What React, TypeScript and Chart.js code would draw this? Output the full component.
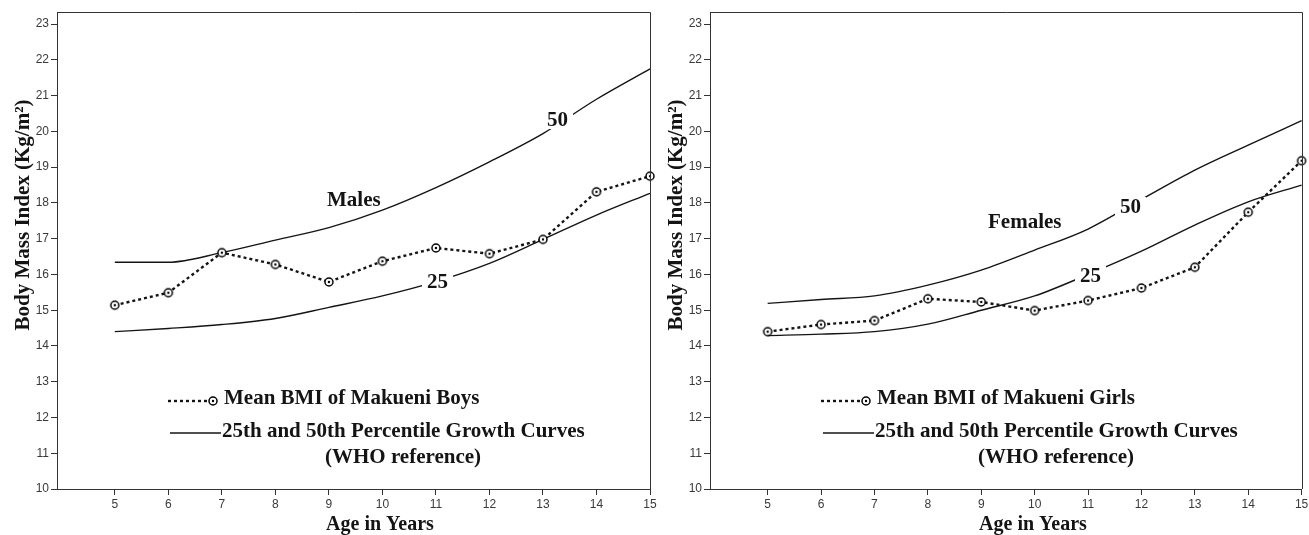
import React, { useEffect, useRef } from "react";
import { Chart, registerables } from "chart.js";

Chart.register(...registerables);

// ---------- data ----------
const ages = [5, 6, 7, 8, 9, 10, 11, 12, 13, 14, 15];

const boysMean = [15.14, 15.49, 16.61, 16.28, 15.79, 16.37, 16.74, 16.58, 16.98, 18.31, 18.75];
const boysP50 = [16.34, 16.34, 16.61, 16.96, 17.31, 17.8, 18.43, 19.15, 19.94, 20.9, 21.75];
const boysP25 = [14.4, 14.49, 14.6, 14.77, 15.08, 15.4, 15.8, 16.31, 16.98, 17.66, 18.27];

const girlsMean = [14.4, 14.6, 14.71, 15.32, 15.23, 14.99, 15.27, 15.62, 16.2, 17.74, 19.18];
const girlsP50 = [15.19, 15.3, 15.4, 15.7, 16.12, 16.68, 17.27, 18.1, 18.92, 19.62, 20.3];
const girlsP25 = [14.29, 14.33, 14.4, 14.61, 15.0, 15.4, 16.0, 16.65, 17.38, 18.03, 18.5];

const xTickValues = [5, 6, 7, 8, 9, 10, 11, 12, 13, 14, 15];
const yTickValues = [10, 11, 12, 13, 14, 15, 16, 17, 18, 19, 20, 21, 22, 23];

const X_MIN = 3.92;
const X_MAX = 15;
const Y_MIN = 10;
const Y_MAX = 23.34;

// ---------- styles ----------
const INK = "#141414";
const AXIS = "#333333";
const SERIF = "'Liberation Serif', 'Times New Roman', serif";
const SANS = "'Liberation Sans', Arial, sans-serif";

function makeMarker(): HTMLCanvasElement {
  const c = document.createElement("canvas");
  c.width = 12;
  c.height = 12;
  const ctx = c.getContext("2d")!;
  ctx.strokeStyle = "#000";
  ctx.lineWidth = 1.5;
  ctx.fillStyle = "#ffffff";
  ctx.beginPath();
  ctx.arc(6, 6, 4, 0, Math.PI * 2);
  ctx.fill();
  ctx.stroke();
  ctx.fillStyle = "#000";
  ctx.beginPath();
  ctx.arc(6, 6, 1.2, 0, Math.PI * 2);
  ctx.fill();
  return c;
}

type PanelCfg = {
  left: number;
  width: number;
  mean: number[];
  p50: number[];
  p25: number[];
  meanLabel: string;
  sexLabel: string;
  sexPos: [number, number];
  p50Pos: [number, number];
  p25Pos: [number, number];
};

const panels: PanelCfg[] = [
  {
    left: 0,
    width: 665,
    mean: boysMean,
    p50: boysP50,
    p25: boysP25,
    meanLabel: "Mean BMI of Makueni Boys",
    sexLabel: "Males",
    sexPos: [327, 206],
    p50Pos: [547, 126],
    p25Pos: [427, 288],
  },
  {
    left: 653,
    width: 656,
    mean: girlsMean,
    p50: girlsP50,
    p25: girlsP25,
    meanLabel: "Mean BMI of Makueni Girls",
    sexLabel: "Females",
    sexPos: [335, 228],
    p50Pos: [467, 213],
    p25Pos: [427, 282],
  },
];

function overlayPlugin(p: PanelCfg, marker: HTMLCanvasElement) {
  return {
    id: "overlay",
    afterDatasetsDraw(chart: any) {
      const ctx: CanvasRenderingContext2D = chart.ctx;
      const a = chart.chartArea;
      ctx.save();

      // curve labels with gaps
      ctx.font = `bold 21px ${SERIF}`;
      ctx.textAlign = "left";
      ctx.textBaseline = "alphabetic";
      const labels: [string, [number, number]][] = [
        ["50", p.p50Pos],
        ["25", p.p25Pos],
      ];
      for (const [txt, [x, y]] of labels) {
        const w = ctx.measureText(txt).width;
        ctx.fillStyle = "#ffffff";
        ctx.fillRect(x - 5, y - 16, w + 10, 19);
        ctx.fillStyle = INK;
        ctx.fillText(txt, x, y);
      }
      ctx.fillStyle = INK;
      ctx.fillText(p.sexLabel, p.sexPos[0], p.sexPos[1]);

      // frame top / right
      ctx.strokeStyle = AXIS;
      ctx.lineWidth = 1;
      ctx.beginPath();
      ctx.moveTo(a.left, Math.round(a.top) + 0.5);
      ctx.lineTo(Math.round(a.right) + 0.5, Math.round(a.top) + 0.5);
      ctx.lineTo(Math.round(a.right) + 0.5, a.bottom);
      ctx.stroke();

      // legend
      ctx.strokeStyle = INK;
      ctx.lineWidth = 2.4;
      ctx.setLineDash([3, 3]);
      ctx.beginPath();
      ctx.moveTo(168, 401);
      ctx.lineTo(209, 401);
      ctx.stroke();
      ctx.setLineDash([]);
      ctx.drawImage(marker, 213 - 6, 401 - 6);
      ctx.lineWidth = 1.5;
      ctx.beginPath();
      ctx.moveTo(170, 433);
      ctx.lineTo(221, 433);
      ctx.stroke();
      ctx.fillStyle = INK;
      ctx.font = `bold 21px ${SERIF}`;
      ctx.fillText(p.meanLabel, 224, 404);
      ctx.fillText("25th and 50th Percentile Growth Curves", 222, 437);
      ctx.fillText("(WHO reference)", 325, 463);

      // axis titles
      ctx.font = `bold 20px ${SERIF}`;
      ctx.textAlign = "center";
      ctx.fillText("Age in Years", 380, 530);
      ctx.save();
      ctx.translate(24, 215);
      ctx.rotate(-Math.PI / 2);
      ctx.font = `bold 21px ${SERIF}`;
      ctx.textBaseline = "middle";
      ctx.fillText("Body Mass Index (Kg/m\u00B2)", 0, 0);
      ctx.restore();

      ctx.restore();
    },
  };
}

function Panel({ cfg }: { cfg: PanelCfg }) {
  const ref = useRef<HTMLCanvasElement>(null);
  useEffect(() => {
    const marker = makeMarker();
    const toXY = (arr: number[]) => ages.map((a, i) => ({ x: a, y: arr[i] }));
    const chart = new Chart(ref.current!, {
      type: "line",
      data: {
        datasets: [
          {
            data: toXY(cfg.mean),
            borderColor: INK,
            borderWidth: 2.4,
            borderDash: [3, 3],
            pointStyle: marker as any,
            pointRadius: 5,
            tension: 0,
            clip: false as any,
          },
          {
            data: toXY(cfg.p50),
            borderColor: INK,
            borderWidth: 1.4,
            pointRadius: 0,
            cubicInterpolationMode: "monotone",
            clip: false as any,
          },
          {
            data: toXY(cfg.p25),
            borderColor: INK,
            borderWidth: 1.4,
            pointRadius: 0,
            cubicInterpolationMode: "monotone",
            clip: false as any,
          },
        ],
      },
      options: {
        responsive: false,
        animation: false,
        devicePixelRatio: 1,
        layout: { padding: { top: 12, right: cfg.width - 650, bottom: 0, left: 0 } },
        plugins: { legend: { display: false }, tooltip: { enabled: false } },
        events: [],
        scales: {
          x: {
            type: "linear",
            min: X_MIN,
            max: X_MAX,
            afterBuildTicks: (s: any) => {
              s.ticks = xTickValues.map((v) => ({ value: v }));
            },
            afterFit: (s: any) => {
              s.height = 46;
              s.paddingLeft = 0;
              s.paddingRight = 0;
            },
            grid: { drawOnChartArea: false, drawTicks: true, tickLength: 6, color: AXIS },
            border: { display: true, color: AXIS, width: 1 },
            ticks: {
              color: "#3a3a3a",
              font: { size: 12, family: SANS },
              padding: 2,
              maxRotation: 0,
              autoSkip: false,
              callback: (v: any) => String(v),
            },
          },
          y: {
            type: "linear",
            min: Y_MIN,
            max: Y_MAX,
            afterBuildTicks: (s: any) => {
              s.ticks = yTickValues.map((v) => ({ value: v }));
            },
            afterFit: (s: any) => {
              s.width = 57;
              s.paddingTop = 0;
              s.paddingBottom = 0;
            },
            grid: { drawOnChartArea: false, drawTicks: true, tickLength: 6, color: AXIS },
            border: { display: true, color: AXIS, width: 1 },
            ticks: {
              color: "#3a3a3a",
              font: { size: 12, family: SANS },
              padding: 2,
              autoSkip: false,
              callback: (v: any) => String(v),
            },
          },
        },
      } as any,
      plugins: [overlayPlugin(cfg, marker)],
    });
    return () => chart.destroy();
  }, []);
  return (
    <canvas
      ref={ref}
      width={cfg.width}
      height={535}
      style={{ position: "absolute", left: cfg.left, top: 0, width: cfg.width, height: 535 }}
    />
  );
}

export default function App() {
  return (
    <div
      style={{
        position: "absolute",
        left: 0,
        top: 0,
        width: 1309,
        height: 535,
        background: "#ffffff",
        overflow: "hidden",
      }}
    >
      {panels.map((p, i) => (
        <Panel key={i} cfg={p} />
      ))}
    </div>
  );
}
